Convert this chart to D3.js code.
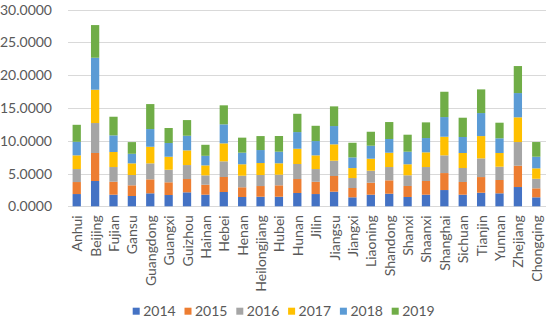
<!DOCTYPE html>
<html><head><meta charset="utf-8">
<script src="https://cdn.jsdelivr.net/npm/d3@7"></script>
<style>body{margin:0;background:#fff}svg{display:block}</style>
</head><body>
<svg id="c" width="550" height="321"></svg>
<script>
const categories = ["Anhui","Beijing","Fujian","Gansu","Guangdong","Guangxi","Guizhou","Hainan","Hebei","Henan","Heilongjiang","Hubei","Hunan","Jilin","Jiangsu","Jiangxi","Liaoning","Shandong","Shanxi","Shaanxi","Shanghai","Sichuan","Tianjin","Yunnan","Zhejiang","Chongqing"];
const years = ["2014","2015","2016","2017","2018","2019"];
const v2014 = [1.87,3.86,1.77,1.57,1.98,1.72,2.13,1.77,2.18,1.42,1.46,1.46,2.03,1.87,2.23,1.37,1.77,1.92,1.42,1.77,2.48,1.77,2.07,1.98,2.94,1.37];
const v2015 = [1.83,4.27,1.98,1.63,2.13,1.94,2.03,1.52,2.29,1.48,1.63,1.74,2.13,1.87,2.39,1.42,1.83,2.04,1.68,2.09,2.59,1.94,2.39,2.03,3.25,1.37];
const v2016 = [1.98,4.57,2.24,1.57,2.44,1.92,2.13,1.43,2.39,1.77,1.68,1.62,2.29,1.94,2.33,1.52,1.83,2.03,1.63,2.13,2.70,2.13,2.85,2.03,3.61,1.46];
const v2017 = [2.09,5.08,2.29,1.78,2.53,1.98,2.24,1.52,2.74,1.74,1.83,1.74,2.33,2.09,2.50,1.52,1.83,2.18,1.68,2.24,2.84,2.29,3.40,2.09,3.77,1.59];
const v2018 = [2.07,4.88,2.54,1.46,2.70,2.09,2.23,1.46,2.90,1.77,1.98,1.77,2.54,2.18,2.79,1.63,1.98,2.09,1.92,2.18,3.00,2.44,3.51,2.24,3.70,1.77];
const v2019 = [2.59,4.98,2.84,1.78,3.81,2.29,2.39,1.68,2.90,2.29,2.13,2.39,2.79,2.33,3.00,2.23,2.13,2.59,2.59,2.39,3.86,2.94,3.61,2.38,4.12,2.24];
const yTicks = [0,5,10,15,20,25,30];
const colors = ["#4472C4","#ED7D31","#A5A5A5","#FFC000","#5B9BD5","#70AD47"];

const series = [v2014,v2015,v2016,v2017,v2018,v2019];
const table = categories.map((c,i)=>{const o={cat:c}; years.forEach((y,j)=>o[y]=series[j][i]); return o;});
const stacked = d3.stack().keys(years)(table);

const svg = d3.select("#c");
const font = "Lato, sans-serif";
const fs = "14px";
const x = d3.scaleBand().domain(categories).range([68, 545]).paddingInner(0.55).paddingOuter(0.25);
const y = d3.scaleLinear().domain([0,30]).range([206.3, 9.6]);

// grid
svg.append("g").selectAll("line").data(yTicks).join("line")
  .attr("x1", 68).attr("x2", 546)
  .attr("y1", d=>Math.round(y(d))+0.5).attr("y2", d=>Math.round(y(d))+0.5)
  .attr("stroke", "#d9d9d9").attr("stroke-width", 1);

// y axis labels
const yAxis = d3.axisLeft(y).tickValues(yTicks).tickFormat(d3.format(".4f")).tickSize(0).tickPadding(0);
const gy = svg.append("g").attr("transform", "translate(52,0)").call(yAxis);
gy.select(".domain").remove();
gy.selectAll("text").attr("font-family", font).attr("font-size", fs).attr("fill", "#595959");

// bars
svg.append("g").selectAll("g").data(stacked).join("g")
  .attr("fill", (d,i)=>colors[i])
  .selectAll("rect").data(d=>d).join("rect")
  .attr("x", d=>x(d.data.cat))
  .attr("width", x.bandwidth())
  .attr("y", d=>y(d[1]))
  .attr("height", d=>y(d[0])-y(d[1]));

// x axis labels
const xAxis = d3.axisBottom(x).tickSize(0).tickPadding(0);
const gx = svg.append("g").attr("transform", `translate(0,${y(0)})`).call(xAxis);
gx.select(".domain").remove();
gx.selectAll("text")
  .attr("font-family", font).attr("font-size", fs).attr("fill", "#595959")
  .attr("text-anchor", "end").attr("dy", null).attr("y", 0)
  .attr("transform", "translate(5.5,9) rotate(-90)");

// legend
const lg = svg.append("g").selectAll("g").data(years).join("g")
  .attr("transform", (d,i)=>`translate(${132.7 + i*51.8},307.7)`);
lg.append("rect").attr("width", 7).attr("height", 7).attr("fill", (d,i)=>colors[i]);
lg.append("text").attr("x", 10.5).attr("y", 8).text(d=>d)
  .attr("font-family", font).attr("font-size", fs).attr("fill", "#595959");
</script>
</body></html>
